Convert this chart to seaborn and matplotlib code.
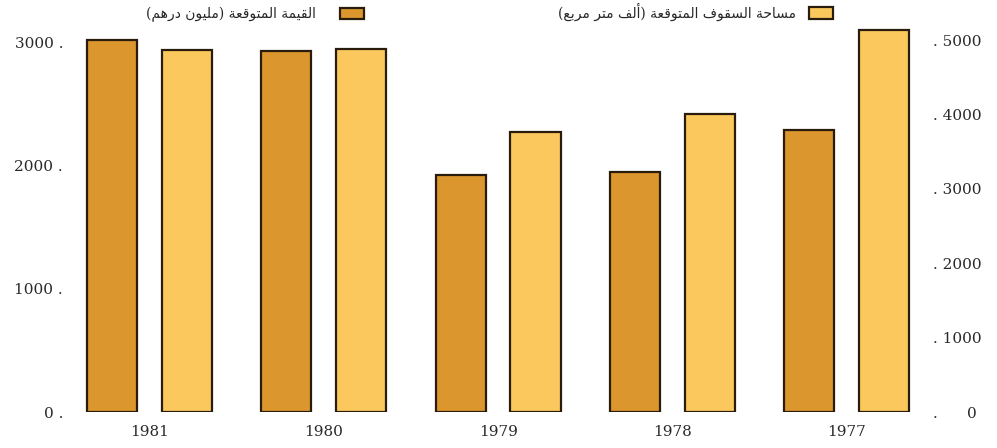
import numpy as np
import pandas as pd
import seaborn as sns
import matplotlib
matplotlib.use("Agg")
import matplotlib.pyplot as plt
from matplotlib.patches import Patch

# data
years = ["1981", "1980", "1979", "1978", "1977"]
value_mdh = [3020, 2930, 1920, 1950, 2290]      # left axis, million dirham
roof_area = [4870, 4880, 3760, 4000, 5130]      # right axis, thousand m2
left_ticks = [0, 1000, 2000, 3000]
right_ticks = [0, 1000, 2000, 3000, 4000, 5000]
label_value = "القيمة المتوقعة (مليون درهم)"
label_area = "مساحة السقوف المتوقعة (ألف متر مربع)"

dark = "#DB962E"
light = "#FAC85C"
edge = "#2a1c0c"

# matplotlib has no arabic shaping, so pick presentation forms by hand
FORMS = {  # isolated, final, initial, medial
    "ا": ("\uFE8D", "\uFE8E", None, None),
    "أ": ("\uFE83", "\uFE84", None, None),
    "ب": ("\uFE8F", "\uFE90", "\uFE91", "\uFE92"),
    "ة": ("\uFE93", "\uFE94", None, None),
    "ت": ("\uFE95", "\uFE96", "\uFE97", "\uFE98"),
    "ح": ("\uFEA1", "\uFEA2", "\uFEA3", "\uFEA4"),
    "د": ("\uFEA9", "\uFEAA", None, None),
    "ر": ("\uFEAD", "\uFEAE", None, None),
    "س": ("\uFEB1", "\uFEB2", "\uFEB3", "\uFEB4"),
    "ع": ("\uFEC9", "\uFECA", "\uFECB", "\uFECC"),
    "ف": ("\uFED1", "\uFED2", "\uFED3", "\uFED4"),
    "ق": ("\uFED5", "\uFED6", "\uFED7", "\uFED8"),
    "ل": ("\uFEDD", "\uFEDE", "\uFEDF", "\uFEE0"),
    "م": ("\uFEE1", "\uFEE2", "\uFEE3", "\uFEE4"),
    "ن": ("\uFEE5", "\uFEE6", "\uFEE7", "\uFEE8"),
    "ه": ("\uFEE9", "\uFEEA", "\uFEEB", "\uFEEC"),
    "و": ("\uFEED", "\uFEEE", None, None),
    "ي": ("\uFEF1", "\uFEF2", "\uFEF3", "\uFEF4"),
}


def shape(text):
    out = []
    for i, c in enumerate(text):
        if c not in FORMS:
            out.append(c)
            continue
        prev = text[i - 1] if i > 0 else ""
        nxt = text[i + 1] if i + 1 < len(text) else ""
        jp = prev in FORMS and FORMS[prev][2] is not None
        jn = nxt in FORMS and FORMS[c][2] is not None
        f = FORMS[c]
        if jp and jn:
            out.append(f[3])
        elif jp:
            out.append(f[1])
        elif jn:
            out.append(f[2])
        else:
            out.append(f[0])
    vis = "".join(out)[::-1]
    return vis.translate(str.maketrans("()", ")("))


sns.set_theme(style="white")
plt.rcParams["font.family"] = ["DejaVu Serif", "DejaVu Sans"]

df_v = pd.DataFrame({"year": years, "val": value_mdh, "series": label_value})
df_a = pd.DataFrame({"year": years, "val": roof_area, "series": label_area})

fig = plt.figure(figsize=(9.97, 4.48), dpi=100)
ax = fig.add_axes([70 / 997, 36 / 448, 855 / 997, 387 / 448])

sns.barplot(data=df_v, x="year", y="val", hue="series", order=years,
            hue_order=[label_value, label_area], palette=[dark, light],
            dodge=True, width=0.86, gap=0.33, saturation=1, edgecolor=edge,
            linewidth=1.6, legend=False, ax=ax)
ax2 = ax.twinx()
sns.barplot(data=df_a, x="year", y="val", hue="series", order=years,
            hue_order=[label_value, label_area], palette=[dark, light],
            dodge=True, width=0.86, gap=0.33, saturation=1, edgecolor=edge,
            linewidth=1.6, legend=False, ax=ax2)

ax.set_xlim(-0.456, 4.449)
ax.set_ylim(0, 3139)
ax2.set_ylim(0, 5202)

for a in (ax, ax2):
    a.set_xlabel("")
    a.set_ylabel("")
    for s in a.spines.values():
        s.set_visible(False)

ax.set_yticks(left_ticks)
ax.set_yticklabels([f"{t} ." for t in left_ticks])
ax2.set_yticks(right_ticks)
ax2.set_yticklabels([". " + (str(t) if t else "     0") for t in right_ticks])
ax.tick_params(axis="y", length=0, pad=5, labelsize=11, labelcolor="#2a2a2a")
ax2.tick_params(axis="y", length=0, pad=6, labelsize=11, labelcolor="#2a2a2a")
ax.tick_params(axis="x", length=0, pad=9, labelsize=11, labelcolor="#2a2a2a")

fig.legend(handles=[Patch(facecolor=dark, edgecolor=edge, linewidth=1.6)],
           labels=[shape(label_value)], loc="upper right",
           bbox_to_anchor=(364 / 997, 1 - 7 / 448), frameon=False,
           markerfirst=False, fontsize=10, handlelength=1.7, handleheight=0.9,
           handletextpad=1.8, borderpad=0, borderaxespad=0)
fig.legend(handles=[Patch(facecolor=light, edgecolor=edge, linewidth=1.6)],
           labels=[shape(label_area)], loc="upper right",
           bbox_to_anchor=(833 / 997, 1 - 3 / 448), frameon=False,
           markerfirst=False, fontsize=10, handlelength=1.7, handleheight=0.9,
           handletextpad=1.0, borderpad=0, borderaxespad=0)

fig.savefig("out.png", dpi=100, facecolor="white")
